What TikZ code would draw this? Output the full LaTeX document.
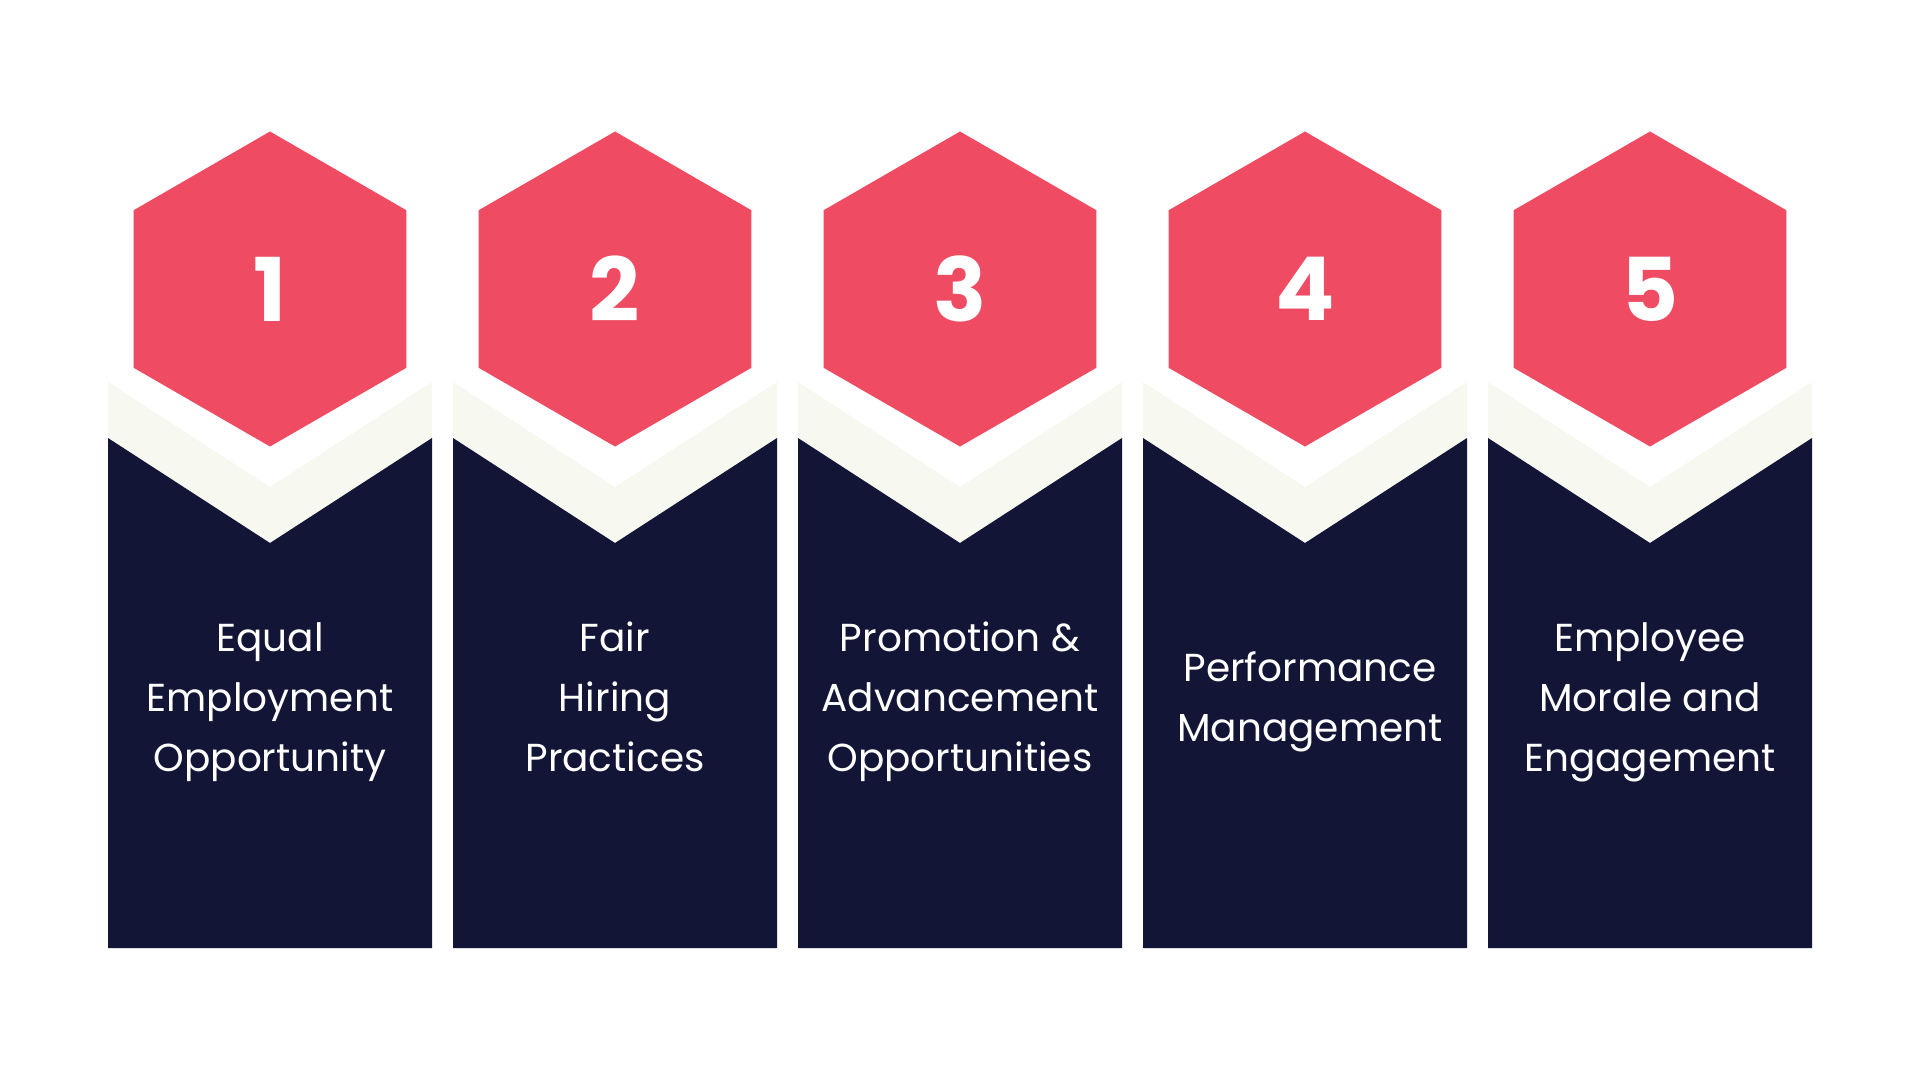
\documentclass[tikz,border=0pt]{standalone}
\usepackage{fontspec}
\setmainfont{Poppins}
\usetikzlibrary{shapes.geometric}
\definecolor{rose}{HTML}{EF4B63}
\definecolor{navy}{HTML}{121535}
\definecolor{cream}{HTML}{F7F8F0}
\begin{document}
\begin{tikzpicture}[x=1pt, y=-1pt, every node/.style={text=white}]
\tikzset{
  hexa/.style={regular polygon, regular polygon sides=6, shape border rotate=30,
    fill=rose, inner sep=0pt, outer sep=0pt, minimum size=315pt,
    font=\fontsize{88}{88}\selectfont\bfseries},
  band/.style={fill=cream},
  panel/.style={fill=navy},
  lab/.style={align=center, inner sep=0pt, anchor=base, font=\fontsize{39}{60}\selectfont}
}
\useasboundingbox[fill=white] (0,0) rectangle (1920,1080);

% --- column 1 ---
\begin{scope}[xshift=270pt]
  \fill[band] (-162,382) -- (0,487) -- (162,382) -- (162,438) -- (0,543) -- (-162,438) -- cycle;
  \fill[panel] (-162,438) -- (0,543) -- (162,438) -- (162,948) -- (-162,948) -- cycle;
  \node[hexa] (h1) at (0,289) {1};
  \node[lab] (t1) at (0,771) {Equal\\Employment\\Opportunity};
\end{scope}

% --- column 2 ---
\begin{scope}[xshift=615pt]
  \fill[band] (-162,382) -- (0,487) -- (162,382) -- (162,438) -- (0,543) -- (-162,438) -- cycle;
  \fill[panel] (-162,438) -- (0,543) -- (162,438) -- (162,948) -- (-162,948) -- cycle;
  \node[hexa] (h2) at (0,289) {2};
  \node[lab] (t2) at (0,771) {Fair\\Hiring\\Practices};
\end{scope}

% --- column 3 ---
\begin{scope}[xshift=960pt]
  \fill[band] (-162,382) -- (0,487) -- (162,382) -- (162,438) -- (0,543) -- (-162,438) -- cycle;
  \fill[panel] (-162,438) -- (0,543) -- (162,438) -- (162,948) -- (-162,948) -- cycle;
  \node[hexa] (h3) at (0,289) {3};
  \node[lab] (t3) at (0,771) {Promotion \&\\Advancement\\Opportunities};
\end{scope}

% --- column 4 ---
\begin{scope}[xshift=1305pt]
  \fill[band] (-162,382) -- (0,487) -- (162,382) -- (162,438) -- (0,543) -- (-162,438) -- cycle;
  \fill[panel] (-162,438) -- (0,543) -- (162,438) -- (162,948) -- (-162,948) -- cycle;
  \node[hexa] (h4) at (0,289) {4};
  \node[lab] (t4) at (5,741) {Performance\\Management};
\end{scope}

% --- column 5 ---
\begin{scope}[xshift=1650pt]
  \fill[band] (-162,382) -- (0,487) -- (162,382) -- (162,438) -- (0,543) -- (-162,438) -- cycle;
  \fill[panel] (-162,438) -- (0,543) -- (162,438) -- (162,948) -- (-162,948) -- cycle;
  \node[hexa] (h5) at (0,289) {5};
  \node[lab] (t5) at (0,771) {Employee\\Morale and\\Engagement};
\end{scope}
\end{tikzpicture}
\end{document}
